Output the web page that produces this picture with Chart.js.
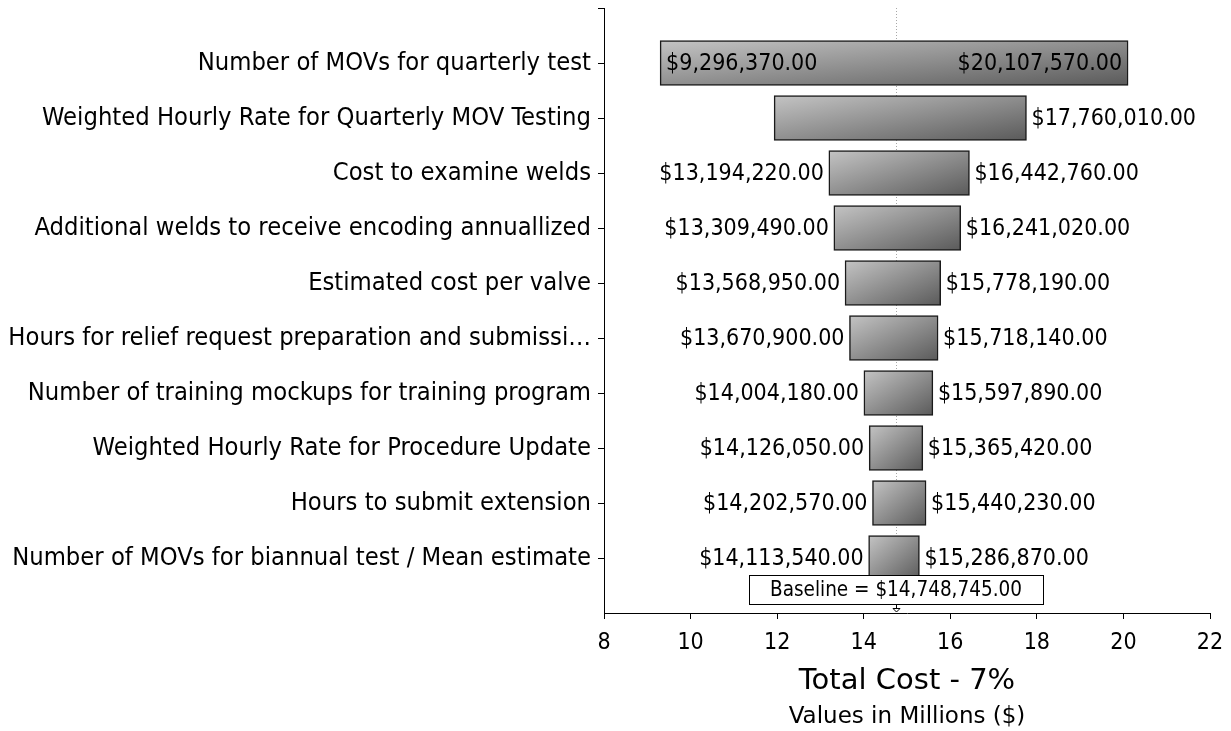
<!DOCTYPE html>
<html>
<head>
<meta charset="utf-8">
<script src="https://cdn.jsdelivr.net/npm/chart.js@4.4.1/dist/chart.umd.min.js"></script>
<style>
  body { margin: 0; background: #fff; }
  #wrap { width: 1231px; height: 731px; }
</style>
</head>
<body>
<div id="wrap"><canvas id="tornado"></canvas></div>
<script>
const categories = [
  'Number of MOVs for quarterly test',
  'Weighted Hourly Rate for Quarterly MOV Testing',
  'Cost to examine welds',
  'Additional welds to receive encoding annuallized',
  'Estimated cost per valve',
  'Hours for relief request preparation and submissi\u2026',
  'Number of training mockups for training program',
  'Weighted Hourly Rate for Procedure Update',
  'Hours to submit extension',
  'Number of MOVs for biannual test / Mean estimate'
];
const lowValues = [9296370, 11930000, 13194220, 13309490, 13568950, 13670900, 14004180, 14126050, 14202570, 14113540];
const highValues = [20107570, 17760010, 16442760, 16241020, 15778190, 15718140, 15597890, 15365420, 15440230, 15286870];
// the source chart leaves out the low label of row 2
const hideLowLabel = [false, true, false, false, false, false, false, false, false, false];
const baseline = 14748745;
const xTicks = [8, 10, 12, 14, 16, 18, 20, 22];

const COND = '"DejaVu Sans Condensed", "DejaVu Sans", sans-serif';
const REG = '"DejaVu Sans", sans-serif';
const BAR_H = 45;

const money = v => '$' + v.toLocaleString('en-US', { minimumFractionDigits: 2, maximumFractionDigits: 2 });

// pad category axis with an empty slot at both ends
const labels = ['', ...categories, ''];
const barData = [null, ...categories.map((c, i) => [lowValues[i] / 1e6, highValues[i] / 1e6]), null];

function barFill(ctx) {
  const chart = ctx.chart;
  const v = ctx.raw;
  if (!v || !chart.scales.x || !chart.chartArea) return '#8c8c8c';
  const xs = chart.scales.x, ys = chart.scales.y;
  const x0 = xs.getPixelForValue(v[0]);
  const x1 = xs.getPixelForValue(v[1]);
  const y0 = ys.getPixelForValue(ctx.dataIndex) - BAR_H / 2;
  const w = x1 - x0, h = BAR_H;
  const L2 = w * w + h * h;
  const g = chart.ctx.createLinearGradient(x0, y0, x0 + 2 * w * h * h / L2, y0 + 2 * w * w * h / L2);
  g.addColorStop(0, '#c4c4c4');
  g.addColorStop(1, '#5a5a5a');
  return g;
}

const extras = {
  id: 'extras',
  beforeDatasetsDraw(chart) {
    const { ctx, chartArea, scales: { x } } = chart;
    const bx = Math.round(x.getPixelForValue(baseline / 1e6)) + 0.5;
    ctx.save();
    ctx.strokeStyle = '#a8a8a8';
    ctx.lineWidth = 1;
    ctx.setLineDash([1, 2]);
    ctx.beginPath();
    ctx.moveTo(bx, chartArea.top);
    ctx.lineTo(bx, chartArea.bottom - 38);
    ctx.stroke();
    ctx.restore();
  },
  afterDatasetsDraw(chart) {
    const { ctx, chartArea, scales: { x } } = chart;
    const meta = chart.getDatasetMeta(0);
    ctx.save();
    ctx.font = '23px ' + COND;
    ctx.fillStyle = '#000';
    ctx.textBaseline = 'middle';
    meta.data.forEach((el, idx) => {
      const i = idx - 1;
      if (i < 0 || i >= categories.length) return;
      const left = Math.min(el.x, el.base), right = Math.max(el.x, el.base);
      const lo = money(lowValues[i]), hi = money(highValues[i]);
      const wLo = ctx.measureText(lo).width, wHi = ctx.measureText(hi).width;
      const y = el.y + 1;
      if (!hideLowLabel[i]) {
        if (left - 5 - wLo > chartArea.left + 4) {
          ctx.textAlign = 'right';
          ctx.fillText(lo, left - 5, y);
        } else {
          ctx.textAlign = 'left';
          ctx.fillText(lo, left + 6, y);
        }
      }
      if (right + 6 + wHi < chart.width) {
        ctx.textAlign = 'left';
        ctx.fillText(hi, right + 5, y);
      } else {
        ctx.textAlign = 'right';
        ctx.fillText(hi, right - 6, y);
      }
    });

    // baseline box and arrow
    const bx = Math.round(x.getPixelForValue(baseline / 1e6));
    const text = 'Baseline = ' + money(baseline);
    ctx.font = '20.5px ' + COND;
    const tw = ctx.measureText(text).width;
    const boxW = Math.round(tw + 42), boxH = 29;
    const boxTop = chartArea.bottom - 38;
    const boxLeft = Math.round(bx - boxW / 2);
    ctx.fillStyle = '#fff';
    ctx.fillRect(boxLeft, boxTop, boxW, boxH);
    ctx.strokeStyle = '#000';
    ctx.lineWidth = 1;
    ctx.strokeRect(boxLeft + 0.5, boxTop + 0.5, boxW, boxH);
    ctx.fillStyle = '#000';
    ctx.textAlign = 'center';
    ctx.fillText(text, bx, boxTop + boxH / 2 + 1);
    ctx.beginPath();
    ctx.moveTo(bx + 0.5, boxTop + boxH + 1);
    ctx.lineTo(bx + 0.5, boxTop + boxH + 4);
    ctx.moveTo(bx - 3, boxTop + boxH + 4.5);
    ctx.lineTo(bx + 4, boxTop + boxH + 4.5);
    ctx.lineTo(bx + 0.5, chartArea.bottom - 1);
    ctx.closePath();
    ctx.stroke();

    // subtitle under the axis title
    ctx.font = '23px ' + REG;
    ctx.textAlign = 'center';
    ctx.fillText('Values in Millions ($)', (chartArea.left + chartArea.right) / 2, 717);
    ctx.restore();
  }
};

new Chart(document.getElementById('tornado'), {
  type: 'bar',
  data: {
    labels,
    datasets: [{
      data: barData,
      backgroundColor: barFill,
      borderColor: '#1a1a1a',
      borderWidth: 1.5,
      borderSkipped: false,
      barThickness: BAR_H
    }]
  },
  options: {
    indexAxis: 'y',
    responsive: true,
    maintainAspectRatio: false,
    animation: false,
    layout: { padding: { top: 8, right: 21, left: 0, bottom: 0 } },
    plugins: {
      legend: { display: false },
      tooltip: { enabled: false }
    },
    scales: {
      x: {
        type: 'linear',
        min: 8,
        max: 22,
        afterBuildTicks: s => { s.ticks = xTicks.map(v => ({ value: v })); },
        ticks: { color: '#000', font: { family: COND, size: 23 }, padding: 10 },
        grid: { drawOnChartArea: false, tickLength: 6, color: '#000' },
        border: { color: '#000', width: 1 },
        title: {
          display: true,
          text: 'Total Cost - 7%',
          color: '#000',
          font: { family: REG, size: 29 },
          padding: { top: 0, bottom: 32 }
        },
        afterFit: s => { s.height = 118; s.paddingLeft = 0; s.paddingRight = 0; }
      },
      y: {
        type: 'category',
        offset: false,
        ticks: { color: '#000', font: { family: COND, size: 25.3 }, padding: 7, autoSkip: false },
        grid: {
          drawOnChartArea: false,
          offset: false,
          tickLength: 6,
          color: c => (c.index === labels.length - 1 ? 'rgba(0,0,0,0)' : '#000')
        },
        border: { color: '#000', width: 1 },
        afterFit: s => { s.width = 604; s.paddingTop = 0; s.paddingBottom = 0; }
      }
    }
  },
  plugins: [extras]
});
</script>
</body>
</html>
